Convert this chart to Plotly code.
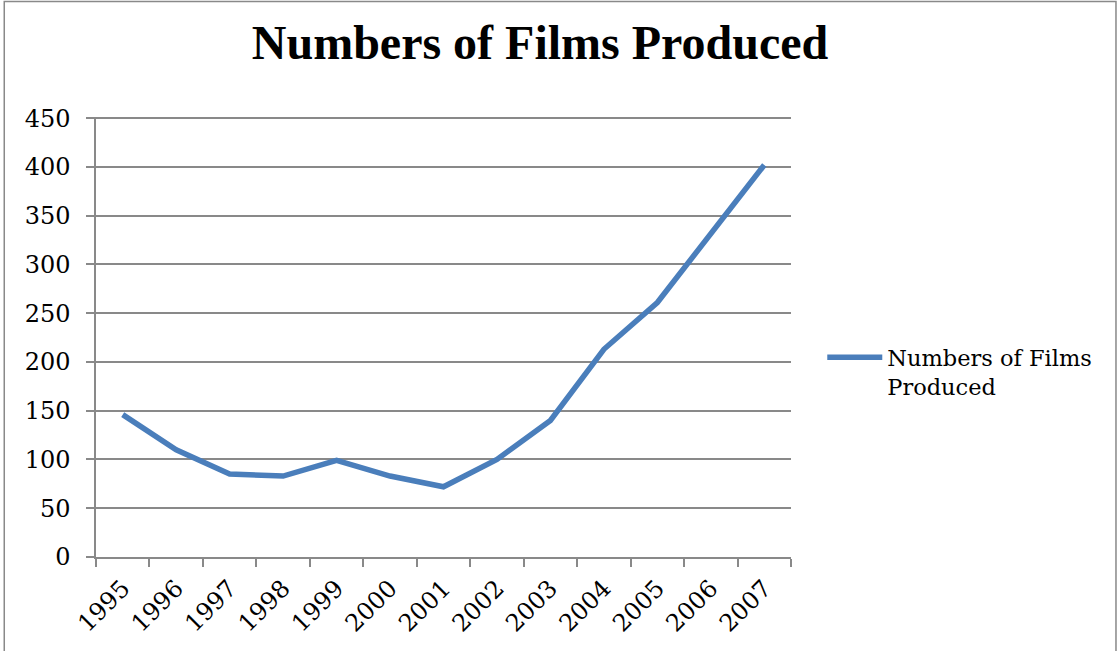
import plotly.graph_objects as go

years = ["1995", "1996", "1997", "1998", "1999", "2000", "2001",
         "2002", "2003", "2004", "2005", "2006", "2007"]
films = [146, 110, 85, 83, 99, 83, 72, 100, 140, 213, 261, 331, 402]
series_name = "Numbers of Films<br>Produced"
title_text = "<b>Numbers of Films Produced</b>"

tick_font = dict(family="DejaVu Serif", size=24, color="#000000")
legend_font = dict(family="DejaVu Serif", size=22.5, color="#000000")

fig = go.Figure()
fig.add_trace(go.Scatter(
    x=years, y=films, mode="lines", name=series_name,
    line=dict(color="#4A7EBB", width=5.5),
))

fig.update_layout(
    width=1118, height=651,
    margin=dict(l=96, r=327, t=117, b=94),
    paper_bgcolor="white", plot_bgcolor="white",
    title=dict(text=title_text, x=0.483, xanchor="center", y=0.935, yanchor="middle",
               font=dict(family="Liberation Serif", size=48, color="#000000")),
    showlegend=True,
    legend=dict(x=1.045, xanchor="left", y=0.42, yanchor="middle",
                font=legend_font, itemwidth=55, valign="top",
                bgcolor="rgba(0,0,0,0)", tracegroupgap=0),
    xaxis=dict(type="category", range=[-0.5, 12.5], tickangle=-45,
               tickson="boundaries", ticks="outside", ticklen=8,
               tickcolor="#898989", tickwidth=1.5,
               showline=True, linecolor="#898989", linewidth=1.5,
               showgrid=False, tickfont=tick_font, zeroline=False,
               ticklabelstandoff=6),
    yaxis=dict(range=[0, 451.2], dtick=50, tick0=0, ticks="outside", ticklen=8,
               tickcolor="#898989", tickwidth=1.5,
               showline=True, linecolor="#898989", linewidth=1.5,
               showgrid=True, gridcolor="#898989", gridwidth=1.5,
               zeroline=False, tickfont=tick_font, ticklabelstandoff=11),
    shapes=[dict(type="rect", xref="paper", yref="paper",
                 x0=-0.132, x1=1.4676, y0=-0.24, y1=1.2626,
                 line=dict(color="#898989", width=1.5), fillcolor="rgba(0,0,0,0)",
                 layer="below")],
)

fig.write_html("out.html")
